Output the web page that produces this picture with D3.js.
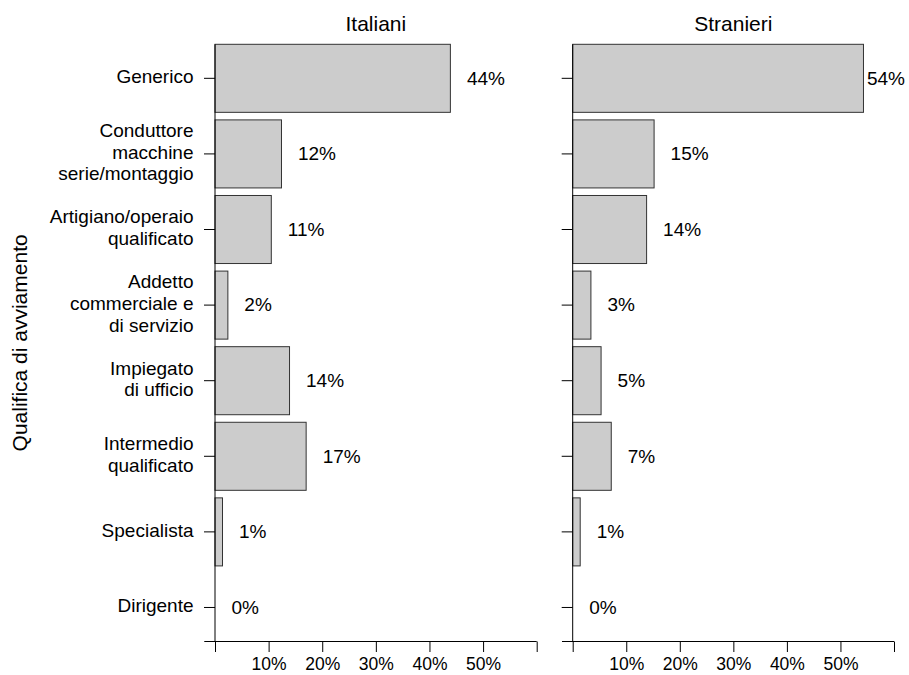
<!DOCTYPE html>
<html lang="it">
<head>
<meta charset="UTF-8">
<title>Qualifica di avviamento</title>
<script src="https://d3js.org/d3.v7.min.js"></script>
<style>
    body { margin: 0; background: #fff; }
    text { font-family: 'Liberation Sans', Arial, Helvetica, sans-serif; fill: #000; }
    .bar { fill: #cccccc; stroke: #333; stroke-width: 1; }
    .domain, .tick line { stroke: #000; stroke-width: 1; }
</style>
</head>
<body>
<script>
    const width  = 909;
    const height = 675;

    // categories, top to bottom
    const categories = [
        "Generico",
        "Conduttore\nmacchine\nserie/montaggio",
        "Artigiano/operaio\nqualificato",
        "Addetto\ncommerciale e\ndi servizio",
        "Impiegato\ndi ufficio",
        "Intermedio\nqualificato",
        "Specialista",
        "Dirigente"
    ];
    // percentages
    const italiani  = [43.9, 12.4, 10.5, 2.4, 13.9, 17.0, 1.4, 0];
    const stranieri = [54.3, 15.2, 13.8, 3.4, 5.3, 7.2, 1.4, 0];
    const xTicks = [0, 10, 20, 30, 40, 50, 60];
    const xTickLabels = ["", "10%", "20%", "30%", "40%", "50%", ""];

    const panels = [
        {title: "Italiani",  values: italiani,  x0: 215,   x1: 536.7},
        {title: "Stranieri", values: stranieri, x0: 572.7, x1: 894}
    ];

    const plotTop = 44.3, plotBottom = 641.5;

    const svg = d3.select("body").append("svg")
        .attr("width", width).attr("height", height);

    const y = d3.scaleBand()
        .domain(categories)
        .range([plotTop, plotBottom])
        .paddingInner(0.1)
        .paddingOuter(0);

    panels.forEach((p, pi) => {
        const x = d3.scaleLinear().domain([0, 60]).range([p.x0, p.x1]);
        const g = svg.append("g");

        // bars
        g.selectAll("rect.bar")
            .data(p.values).join("rect").attr("class", "bar")
            .attr("x", x(0))
            .attr("y", (d, i) => y(categories[i]))
            .attr("width", d => x(d) - x(0))
            .attr("height", y.bandwidth())
            .style("display", d => d > 0 ? null : "none");

        // value labels, pulled in when they would leave the page
        g.selectAll("text.val")
            .data(p.values).join("text").attr("class", "val")
            .attr("font-size", 19)
            .attr("y", (d, i) => y(categories[i]) + y.bandwidth() / 2)
            .attr("dy", "0.33em")
            .text(d => Math.round(d) + "%")
            .attr("x", function(d) {
                const w = this.getComputedTextLength();
                return Math.min(x(d) + 16.5, width - w - 4);
            });

        // y axis (labels only in the first panel)
        const yAxis = d3.axisLeft(y).tickSize(11).tickSizeOuter(0).tickFormat("");
        const ya = g.append("g")
            .attr("transform", `translate(${x(0)},0)`)
            .call(yAxis);
        ya.select(".domain").attr("d", `M0,${plotTop}V${plotBottom}`);

        if (pi === 0) {
            ya.selectAll(".tick").append("text")
                .attr("text-anchor", "end")
                .attr("font-size", 19)
                .attr("fill", "#000")
                .attr("x", -21.5)
                .each(function(d) {
                    const lines = d.split("\n");
                    const t = d3.select(this);
                    lines.forEach((l, k) => {
                        t.append("tspan")
                            .attr("x", -21.5)
                            .attr("dy", k === 0 ? (0.25 - (lines.length - 1) / 2 * 1.14) + "em" : "1.14em")
                            .text(l);
                    });
                });
        }

        // x axis
        const xAxis = d3.axisBottom(x).tickValues(xTicks).tickSize(10.5)
            .tickSizeOuter(0).tickPadding(6)
            .tickFormat((d, i) => xTickLabels[i]);
        const xa = g.append("g")
            .attr("transform", `translate(0,${plotBottom})`)
            .call(xAxis);
        xa.select(".domain").attr("d", `M${x(-2)},0H${x(60)}`);
        xa.selectAll(".tick text").attr("font-size", 17.5).attr("fill", "#000");

        // panel title
        g.append("text")
            .attr("x", (x(0) + x(60)) / 2)
            .attr("y", 30.7)
            .attr("text-anchor", "middle")
            .attr("font-size", 21)
            .text(p.title);
    });

    // y axis title
    svg.append("text")
        .attr("transform", `translate(27,${(plotTop + plotBottom) / 2}) rotate(-90)`)
        .attr("text-anchor", "middle")
        .attr("font-size", 21)
        .text("Qualifica di avviamento");
</script>
</body>
</html>
